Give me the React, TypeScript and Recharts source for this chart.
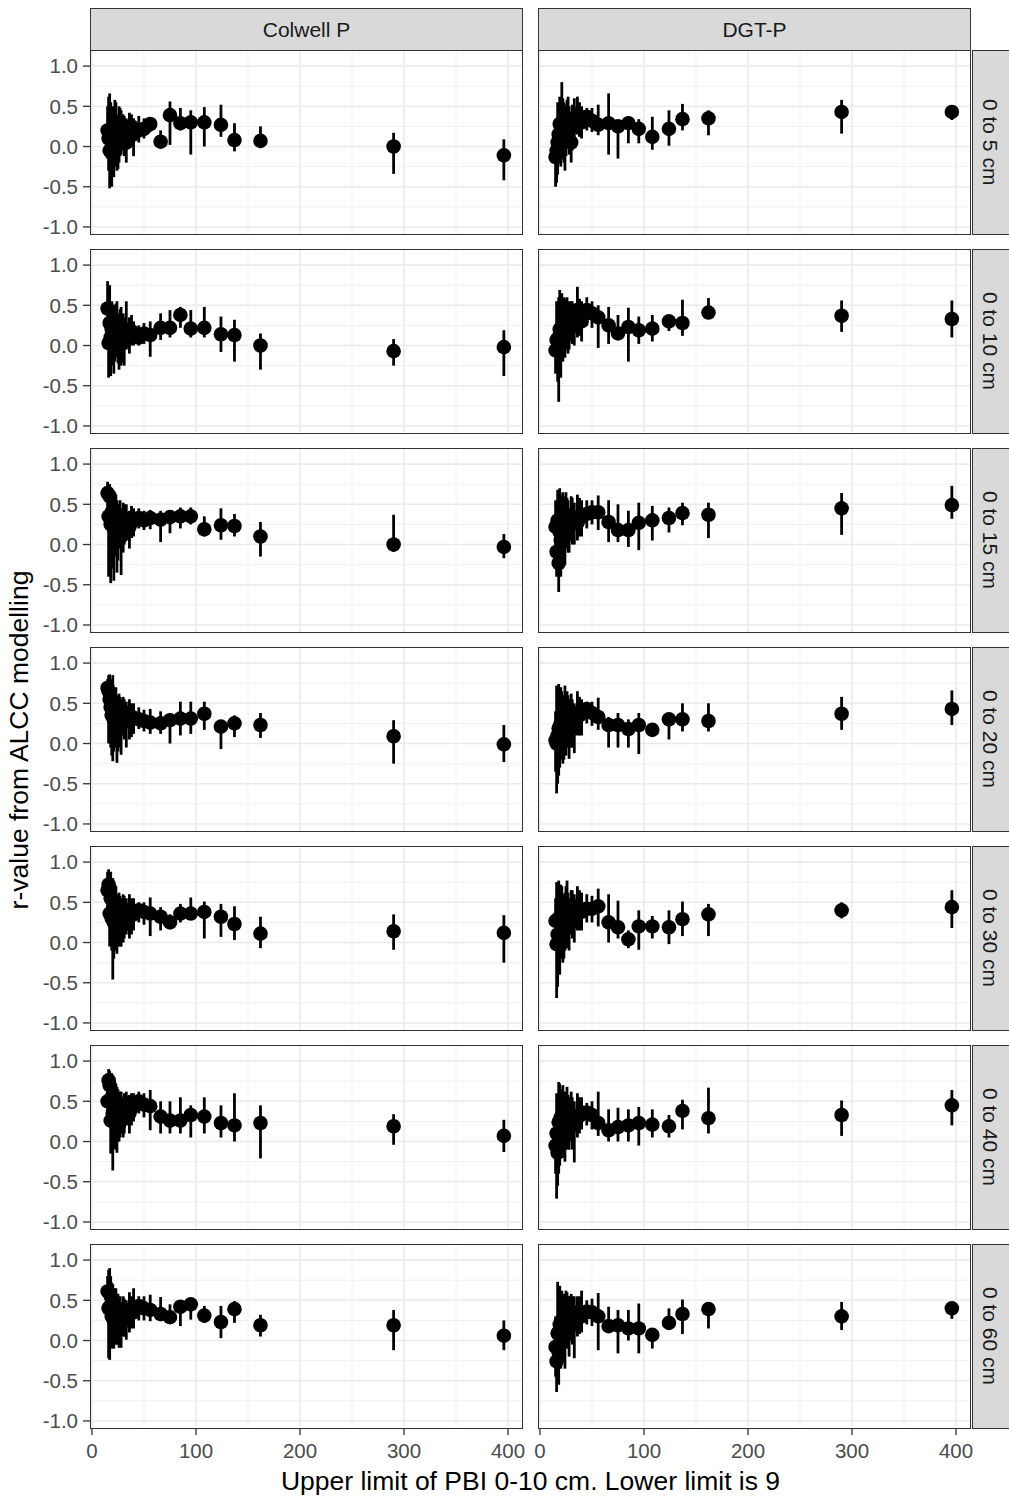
import { ScatterChart, Scatter, XAxis, YAxis, CartesianGrid, ErrorBar } from 'recharts';

// facet labels
const COL_LABELS = ['Colwell P', 'DGT-P'];
const ROW_LABELS = ['0 to 5 cm', '0 to 10 cm', '0 to 15 cm', '0 to 20 cm', '0 to 30 cm', '0 to 40 cm', '0 to 60 cm'];

const X_TICKS = [0, 100, 200, 300, 400];
const X_MINOR = [50, 150, 250, 350];
const Y_TICKS = [-1, -0.5, 0, 0.5, 1];
const Y_MINOR = [-0.75, -0.25, 0.25, 0.75];

// upper limit of PBI (shared by every panel)
const X_PBI = [
  15, 16, 17, 18, 19, 20, 21, 22, 23, 24, 25, 26, 27, 28, 30, 31, 33, 36, 38, 40, 45, 50,
  56, 66, 75, 85, 95, 108, 124, 137, 162, 290, 396,
];

// [r, lower, upper] per point, same order as X_PBI
const colwell5 = [
  [0.2, -0.15, 0.5], [0.1, -0.3, 0.62], [-0.05, -0.52, 0.66], [0.15, -0.45, 0.55], [-0.08, -0.5, 0.4], [0.12, -0.35, 0.5],
  [0.05, -0.38, 0.45], [0.18, -0.25, 0.58], [0.25, -0.1, 0.55], [0.02, -0.3, 0.35], [0.1, -0.28, 0.4], [0.15, -0.2, 0.5],
  [0.2, -0.12, 0.48], [0.22, -0.1, 0.45], [0.25, -0.05, 0.4], [0.15, -0.12, 0.38], [0.05, -0.2, 0.35], [0.22, 0.0, 0.42],
  [0.25, 0.02, 0.4], [0.15, -0.12, 0.35], [0.2, 0.05, 0.38], [0.22, 0.1, 0.35],
  [0.28, 0.18, 0.34], [0.06, -0.02, 0.2], [0.39, 0.02, 0.56], [0.29, 0.2, 0.48], [0.3, -0.1, 0.45], [0.3, 0.0, 0.49],
  [0.27, 0.12, 0.52], [0.08, -0.06, 0.29], [0.07, -0.02, 0.25], [0.0, -0.34, 0.17], [-0.11, -0.42, 0.09],
];
const dgt5 = [
  [-0.13, -0.5, 0.15], [-0.05, -0.45, 0.3], [0.05, -0.35, 0.55], [0.15, -0.2, 0.45], [0.28, -0.1, 0.62], [0.05, -0.25, 0.5],
  [0.18, -0.15, 0.8], [0.25, -0.1, 0.6], [0.12, -0.2, 0.55], [0.08, -0.3, 0.45], [0.22, -0.12, 0.52], [0.3, 0.0, 0.58],
  [0.32, 0.02, 0.62], [0.2, -0.1, 0.5], [0.05, -0.2, 0.4], [0.25, -0.05, 0.52], [0.35, 0.05, 0.6], [0.4, 0.15, 0.62],
  [0.33, 0.12, 0.55], [0.3, 0.1, 0.5], [0.37, 0.2, 0.48], [0.32, 0.18, 0.48],
  [0.27, 0.14, 0.52], [0.29, -0.1, 0.66], [0.25, -0.15, 0.33], [0.29, 0.04, 0.37], [0.22, 0.04, 0.34], [0.12, -0.04, 0.37],
  [0.22, 0.01, 0.45], [0.34, 0.2, 0.53], [0.35, 0.14, 0.45], [0.43, 0.16, 0.58], [0.43, 0.33, 0.5],
];
const colwell10 = [
  [0.46, 0.05, 0.8], [0.03, -0.4, 0.62], [0.28, -0.1, 0.75], [0.1, -0.38, 0.45], [0.2, -0.2, 0.55], [0.05, -0.25, 0.4],
  [0.15, -0.35, 0.5], [0.12, -0.2, 0.42], [0.25, -0.08, 0.52], [0.18, -0.15, 0.55], [0.08, -0.22, 0.4], [0.0, -0.3, 0.35],
  [0.18, -0.12, 0.45], [0.15, -0.25, 0.48], [0.1, -0.22, 0.4], [0.05, -0.25, 0.35], [0.2, -0.05, 0.55], [0.12, -0.1, 0.35],
  [0.18, 0.0, 0.38], [0.15, 0.0, 0.3], [0.1, 0.0, 0.25], [0.15, 0.02, 0.28],
  [0.13, -0.14, 0.3], [0.22, 0.07, 0.4], [0.22, 0.1, 0.44], [0.38, 0.22, 0.48], [0.21, 0.1, 0.44], [0.22, 0.1, 0.48],
  [0.14, -0.08, 0.36], [0.13, -0.2, 0.32], [0.0, -0.3, 0.15], [-0.07, -0.25, 0.08], [-0.02, -0.38, 0.19],
];
const dgt10 = [
  [-0.06, -0.35, 0.2], [0.07, -0.3, 0.55], [-0.02, -0.45, 0.4], [0.1, -0.7, 0.6], [0.2, -0.2, 0.69], [0.0, -0.4, 0.45],
  [0.15, -0.1, 0.65], [0.25, -0.2, 0.55], [0.18, -0.15, 0.6], [0.12, -0.15, 0.5], [0.3, 0.0, 0.58], [0.28, 0.0, 0.6],
  [0.18, -0.1, 0.5], [0.2, -0.05, 0.55], [0.35, 0.05, 0.55], [0.28, 0.02, 0.55], [0.25, 0.0, 0.5], [0.44, 0.1, 0.73],
  [0.35, 0.12, 0.58], [0.3, 0.05, 0.55], [0.44, 0.25, 0.6], [0.4, 0.22, 0.55],
  [0.35, -0.03, 0.5], [0.25, 0.02, 0.48], [0.15, 0.12, 0.38], [0.23, -0.2, 0.47], [0.19, 0.02, 0.36], [0.21, 0.05, 0.38],
  [0.3, 0.18, 0.35], [0.28, 0.12, 0.57], [0.41, 0.34, 0.59], [0.37, 0.17, 0.56], [0.33, 0.1, 0.56],
];
const colwell15 = [
  [0.64, 0.45, 0.78], [0.35, -0.4, 0.7], [0.6, 0.25, 0.75], [0.25, -0.48, 0.6], [0.4, -0.2, 0.62], [0.3, -0.3, 0.65],
  [0.2, -0.45, 0.55], [0.35, -0.15, 0.6], [0.3, -0.1, 0.62], [0.15, -0.35, 0.55], [0.2, -0.2, 0.5], [0.3, -0.05, 0.5],
  [0.35, 0.0, 0.55], [0.1, -0.38, 0.45], [0.25, -0.1, 0.52], [0.3, 0.0, 0.5], [0.32, 0.05, 0.5], [0.22, -0.05, 0.42],
  [0.28, 0.08, 0.48], [0.3, 0.1, 0.45], [0.33, 0.2, 0.45], [0.3, 0.18, 0.42],
  [0.33, 0.19, 0.43], [0.31, 0.03, 0.42], [0.34, 0.14, 0.42], [0.35, 0.2, 0.46], [0.35, 0.25, 0.46], [0.19, 0.1, 0.35],
  [0.24, 0.06, 0.45], [0.23, 0.1, 0.38], [0.1, -0.15, 0.28], [0.0, -0.09, 0.37], [-0.03, -0.17, 0.13],
];
const dgt15 = [
  [0.22, -0.1, 0.55], [-0.09, -0.4, 0.35], [0.3, -0.2, 0.68], [-0.23, -0.59, 0.1], [0.15, -0.3, 0.7], [0.05, -0.4, 0.55],
  [0.25, -0.15, 0.62], [0.35, 0.0, 0.65], [0.2, -0.2, 0.6], [0.1, -0.25, 0.5], [0.32, 0.0, 0.65], [0.3, -0.05, 0.58],
  [0.25, -0.1, 0.55], [0.22, -0.1, 0.45], [0.35, 0.05, 0.6], [0.3, 0.0, 0.58], [0.28, 0.0, 0.52], [0.27, 0.05, 0.62],
  [0.32, 0.1, 0.58], [0.35, 0.1, 0.55], [0.38, 0.2, 0.55], [0.4, 0.25, 0.55],
  [0.4, 0.18, 0.61], [0.28, 0.03, 0.55], [0.18, 0.03, 0.5], [0.18, -0.03, 0.42], [0.27, -0.07, 0.52], [0.3, 0.05, 0.48],
  [0.33, 0.15, 0.46], [0.39, 0.24, 0.52], [0.37, 0.08, 0.52], [0.45, 0.12, 0.64], [0.49, 0.32, 0.73],
];
const colwell20 = [
  [0.69, 0.45, 0.8], [0.65, 0.0, 0.85], [0.55, 0.1, 0.86], [0.45, -0.05, 0.8], [0.35, -0.15, 0.7], [0.5, -0.22, 0.85],
  [0.3, -0.1, 0.6], [0.4, 0.05, 0.65], [0.35, -0.05, 0.7], [0.25, -0.24, 0.55], [0.3, -0.1, 0.6], [0.38, 0.0, 0.62],
  [0.32, -0.05, 0.58], [0.3, -0.14, 0.55], [0.4, 0.1, 0.58], [0.33, 0.05, 0.55], [0.28, -0.05, 0.52], [0.35, 0.05, 0.55],
  [0.3, 0.08, 0.5], [0.32, 0.12, 0.5], [0.3, 0.18, 0.45], [0.28, 0.15, 0.42],
  [0.26, 0.12, 0.43], [0.25, 0.12, 0.4], [0.29, 0.0, 0.38], [0.31, 0.1, 0.52], [0.31, 0.12, 0.52], [0.37, 0.17, 0.52],
  [0.21, -0.07, 0.29], [0.25, 0.08, 0.35], [0.23, 0.07, 0.38], [0.09, -0.25, 0.29], [-0.01, -0.23, 0.23],
];
const dgt20 = [
  [0.04, -0.35, 0.4], [0.0, -0.62, 0.72], [0.1, -0.5, 0.55], [0.19, -0.4, 0.74], [0.05, -0.3, 0.6], [0.25, -0.1, 0.7],
  [0.33, -0.2, 0.65], [0.15, -0.25, 0.55], [0.25, -0.2, 0.6], [0.3, -0.05, 0.72], [0.2, -0.15, 0.55], [0.4, 0.0, 0.65],
  [0.3, -0.05, 0.6], [0.22, -0.19, 0.55], [0.35, -0.05, 0.62], [0.28, -0.05, 0.55], [0.19, -0.12, 0.5], [0.38, 0.1, 0.65],
  [0.35, 0.1, 0.58], [0.4, 0.1, 0.55], [0.43, 0.25, 0.52], [0.38, 0.22, 0.52],
  [0.33, 0.17, 0.57], [0.23, -0.05, 0.33], [0.23, -0.05, 0.38], [0.18, -0.05, 0.3], [0.23, -0.13, 0.38], [0.17, 0.1, 0.25],
  [0.3, 0.05, 0.38], [0.3, 0.15, 0.5], [0.28, 0.15, 0.5], [0.37, 0.17, 0.58], [0.43, 0.23, 0.66],
];
const colwell30 = [
  [0.65, 0.35, 0.88], [0.72, 0.3, 0.91], [0.36, -0.05, 0.85], [0.55, 0.1, 0.88], [0.3, -0.1, 0.65], [0.4, -0.46, 0.8],
  [0.25, -0.2, 0.7], [0.45, 0.0, 0.72], [0.35, -0.1, 0.7], [0.2, -0.14, 0.5], [0.3, -0.05, 0.6], [0.38, 0.0, 0.62],
  [0.28, -0.05, 0.58], [0.3, -0.05, 0.55], [0.22, 0.0, 0.6], [0.35, 0.05, 0.58], [0.4, 0.1, 0.55], [0.38, 0.05, 0.6],
  [0.35, 0.1, 0.55], [0.35, 0.15, 0.55], [0.4, 0.25, 0.5], [0.38, 0.22, 0.5],
  [0.36, 0.08, 0.56], [0.32, 0.15, 0.44], [0.25, 0.18, 0.35], [0.36, 0.25, 0.48], [0.36, 0.28, 0.56], [0.38, 0.05, 0.51],
  [0.32, 0.07, 0.48], [0.23, 0.03, 0.45], [0.11, -0.07, 0.32], [0.14, -0.09, 0.35], [0.12, -0.25, 0.34],
];
const dgt30 = [
  [0.27, -0.1, 0.55], [-0.02, -0.69, 0.75], [0.1, -0.55, 0.6], [0.3, -0.35, 0.77], [-0.02, -0.4, 0.4], [0.25, -0.2, 0.72],
  [0.35, 0.0, 0.7], [0.0, -0.25, 0.45], [0.2, -0.2, 0.6], [0.29, -0.1, 0.62], [0.32, -0.05, 0.7], [0.35, 0.05, 0.77],
  [0.28, -0.05, 0.62], [0.22, -0.1, 0.55], [0.4, 0.1, 0.65], [0.35, 0.05, 0.65], [0.3, 0.0, 0.6], [0.45, 0.15, 0.7],
  [0.4, 0.15, 0.65], [0.38, 0.15, 0.62], [0.42, 0.25, 0.6], [0.42, 0.25, 0.58],
  [0.45, 0.2, 0.67], [0.25, 0.0, 0.6], [0.19, 0.05, 0.52], [0.04, -0.07, 0.15], [0.2, -0.09, 0.4], [0.2, 0.05, 0.33],
  [0.19, -0.02, 0.4], [0.29, 0.08, 0.51], [0.35, 0.08, 0.48], [0.4, 0.3, 0.5], [0.44, 0.18, 0.65],
];
const colwell40 = [
  [0.5, 0.2, 0.8], [0.76, 0.45, 0.9], [0.7, 0.3, 0.88], [0.26, -0.15, 0.7], [0.55, 0.1, 0.85], [0.35, -0.36, 0.75],
  [0.45, 0.0, 0.78], [0.3, -0.1, 0.62], [0.4, 0.0, 0.72], [0.4, -0.14, 0.68], [0.35, 0.0, 0.65], [0.21, 0.0, 0.55],
  [0.38, 0.05, 0.62], [0.45, 0.1, 0.62], [0.28, 0.05, 0.55], [0.4, 0.1, 0.6], [0.48, 0.2, 0.62], [0.35, 0.1, 0.58],
  [0.42, 0.2, 0.6], [0.45, 0.25, 0.6], [0.5, 0.35, 0.62], [0.46, 0.3, 0.6],
  [0.44, 0.14, 0.64], [0.31, 0.1, 0.5], [0.26, 0.1, 0.5], [0.26, 0.1, 0.55], [0.33, 0.05, 0.45], [0.31, 0.1, 0.55],
  [0.23, 0.05, 0.45], [0.2, 0.0, 0.6], [0.23, -0.21, 0.45], [0.19, -0.04, 0.34], [0.07, -0.13, 0.27],
];
const dgt40 = [
  [-0.05, -0.4, 0.3], [0.1, -0.71, 0.6], [-0.14, -0.55, 0.45], [0.24, -0.4, 0.74], [0.0, -0.3, 0.72], [0.3, -0.15, 0.65],
  [0.1, -0.2, 0.6], [0.33, 0.0, 0.7], [0.22, -0.2, 0.62], [0.2, -0.25, 0.55], [0.28, -0.1, 0.62], [0.35, -0.05, 0.68],
  [0.25, -0.1, 0.58], [0.25, -0.1, 0.55], [0.3, 0.0, 0.62], [0.25, -0.1, 0.55], [0.2, -0.26, 0.5], [0.3, 0.05, 0.6],
  [0.32, 0.1, 0.55], [0.36, 0.15, 0.55], [0.36, 0.2, 0.48], [0.33, 0.15, 0.5],
  [0.23, 0.07, 0.62], [0.14, 0.0, 0.4], [0.18, 0.0, 0.42], [0.2, 0.0, 0.4], [0.23, -0.05, 0.43], [0.21, 0.05, 0.4],
  [0.19, 0.05, 0.33], [0.38, 0.15, 0.52], [0.29, 0.1, 0.67], [0.33, 0.07, 0.51], [0.45, 0.2, 0.64],
];
const colwell60 = [
  [0.61, 0.3, 0.8], [0.4, -0.22, 0.88], [0.42, -0.24, 0.9], [0.55, 0.0, 0.8], [0.3, -0.1, 0.72], [0.45, -0.05, 0.7],
  [0.25, -0.1, 0.65], [0.4, 0.0, 0.62], [0.35, -0.05, 0.65], [0.2, -0.05, 0.55], [0.3, -0.05, 0.58], [0.35, -0.09, 0.52],
  [0.33, 0.0, 0.55], [0.3, -0.09, 0.48], [0.38, 0.05, 0.55], [0.32, 0.05, 0.52], [0.25, 0.01, 0.5], [0.38, 0.1, 0.6],
  [0.38, 0.15, 0.55], [0.35, 0.15, 0.65], [0.43, 0.25, 0.55], [0.4, 0.25, 0.55],
  [0.38, 0.24, 0.57], [0.33, 0.24, 0.54], [0.29, 0.25, 0.45], [0.42, 0.18, 0.49], [0.45, 0.26, 0.5], [0.31, 0.22, 0.43],
  [0.23, 0.03, 0.43], [0.39, 0.22, 0.49], [0.19, 0.05, 0.32], [0.19, -0.12, 0.38], [0.06, -0.12, 0.25],
];
const dgt60 = [
  [-0.08, -0.45, 0.3], [-0.26, -0.64, 0.1], [0.09, -0.49, 0.73], [-0.15, -0.55, 0.55], [0.2, -0.3, 0.68], [0.0, -0.35, 0.5],
  [0.25, -0.1, 0.62], [0.1, -0.2, 0.55], [0.15, -0.25, 0.58], [0.21, -0.35, 0.58], [0.25, -0.1, 0.62], [0.3, -0.05, 0.6],
  [0.22, -0.1, 0.55], [0.15, -0.2, 0.55], [0.34, 0.0, 0.58], [0.28, -0.05, 0.55], [0.25, -0.22, 0.55], [0.35, 0.05, 0.55],
  [0.32, 0.08, 0.55], [0.3, 0.1, 0.62], [0.36, 0.2, 0.5], [0.35, 0.18, 0.52],
  [0.3, -0.12, 0.59], [0.18, 0.09, 0.42], [0.19, -0.16, 0.38], [0.15, 0.0, 0.38], [0.15, -0.16, 0.46], [0.07, -0.1, 0.15],
  [0.22, 0.15, 0.4], [0.33, 0.08, 0.51], [0.39, 0.15, 0.45], [0.3, 0.13, 0.48], [0.4, 0.27, 0.45],
];

const PANEL_VALUES = [
  [colwell5, dgt5],
  [colwell10, dgt10],
  [colwell15, dgt15],
  [colwell20, dgt20],
  [colwell30, dgt30],
  [colwell40, dgt40],
  [colwell60, dgt60],
];

const FONT = '"Liberation Sans", Arial, sans-serif';
const PANEL_W = 433;
const PANEL_H = 185;
const COL_LEFT = [90, 538];
const ROW_TOP = 50;
const ROW_STEP = 199;
const Y_AXIS_W = 60;
const X_AXIS_H = 40;
const PAD = 14; // room so edge tick labels are not clipped
const X_DOMAIN = [-1.9, 414.4];
const Y_DOMAIN = [-1.1, 1.2];

function toRows(values: number[][]) {
  return X_PBI.map((x, i) => {
    const [r, lo, hi] = values[i];
    return { x, r, err: [r - lo, hi - r] };
  });
}

function Dot(props: any) {
  const { cx, cy } = props;
  if (cx == null || cy == null) return null;
  return <circle cx={cx} cy={cy} r={7.3} fill="#000" />;
}

function Panel({ values, row, col }: { values: number[][]; row: number; col: number }) {
  const showX = row === ROW_LABELS.length - 1;
  const showY = col === 0;
  const yw = showY ? Y_AXIS_W : 0;
  const data = toRows(values);
  const tick = { fill: '#4D4D4D', fontSize: 20.5, fontFamily: FONT };
  return (
    <div style={{ position: 'absolute', left: COL_LEFT[col] - yw - PAD, top: ROW_TOP + row * ROW_STEP - PAD }}>
      <ScatterChart
        width={PANEL_W + yw + 2 * PAD}
        height={PANEL_H + (showX ? X_AXIS_H : 0) + 2 * PAD}
        margin={{ top: PAD, right: PAD, bottom: PAD, left: PAD }}
      >
        <CartesianGrid stroke="#F0F0F0" strokeWidth={1} verticalValues={X_MINOR} horizontalValues={Y_MINOR} />
        <CartesianGrid stroke="#EBEBEB" strokeWidth={1.6} verticalValues={X_TICKS} horizontalValues={Y_TICKS} />
        <XAxis
          dataKey="x"
          type="number"
          hide={!showX}
          domain={X_DOMAIN}
          allowDataOverflow
          ticks={X_TICKS}
          interval={0}
          height={X_AXIS_H}
          axisLine={false}
          tickLine={{ stroke: '#333333', strokeWidth: 1.3 }}
          tickSize={6}
          tickMargin={8}
          tick={tick}
        />
        <YAxis
          dataKey="r"
          type="number"
          hide={!showY}
          domain={Y_DOMAIN}
          allowDataOverflow
          ticks={Y_TICKS}
          interval={0}
          width={Y_AXIS_W}
          axisLine={false}
          tickLine={{ stroke: '#333333', strokeWidth: 1.3 }}
          tickSize={7}
          tickMargin={5}
          tick={tick}
          tickFormatter={(v: number) => v.toFixed(1)}
        />
        <Scatter data={data} shape={Dot} isAnimationActive={false}>
          <ErrorBar dataKey="err" direction="y" width={0} stroke="#000" strokeWidth={2.8} isAnimationActive={false} />
        </Scatter>
      </ScatterChart>
      {/* panel border */}
      <div
        style={{
          position: 'absolute',
          left: yw + PAD,
          top: PAD,
          width: PANEL_W,
          height: PANEL_H,
          border: '1.3px solid #333333',
          boxSizing: 'border-box',
          pointerEvents: 'none',
        }}
      />
    </div>
  );
}

export default function App() {
  return (
    <div
      style={{
        position: 'absolute',
        left: 0,
        top: 0,
        width: 1009,
        height: 1496,
        overflow: 'hidden',
        background: '#fff',
        fontFamily: FONT,
      }}
    >
      {COL_LABELS.map((label, c) => (
        <div
          key={label}
          style={{
            position: 'absolute',
            left: COL_LEFT[c],
            top: 8,
            width: PANEL_W,
            height: ROW_TOP - 8 + 1,
            background: '#D9D9D9',
            border: '1.3px solid #333333',
            boxSizing: 'border-box',
            display: 'flex',
            alignItems: 'center',
            justifyContent: 'center',
            fontSize: 21,
            color: '#1A1A1A',
          }}
        >
          {label}
        </div>
      ))}

      {ROW_LABELS.map((label, r) => (
        <div
          key={label}
          style={{
            position: 'absolute',
            left: COL_LEFT[1] + PANEL_W + 1,
            top: ROW_TOP + r * ROW_STEP,
            width: 44,
            height: PANEL_H,
            background: '#D9D9D9',
            border: '1.3px solid #333333',
            boxSizing: 'border-box',
            display: 'flex',
            alignItems: 'center',
            justifyContent: 'flex-start',
            paddingLeft: 5,
            fontSize: 21,
            color: '#1A1A1A',
          }}
        >
          <span style={{ writingMode: 'vertical-rl' }}>{label}</span>
        </div>
      ))}

      {PANEL_VALUES.map((pair, r) =>
        pair.map((values, c) => <Panel key={`${r}-${c}`} values={values} row={r} col={c} />)
      )}

      <div
        style={{
          position: 'absolute',
          left: COL_LEFT[0],
          width: COL_LEFT[1] + PANEL_W - COL_LEFT[0],
          top: 1466,
          textAlign: 'center',
          fontSize: 26.5,
          color: '#000',
        }}
      >
        Upper limit of PBI 0-10 cm. Lower limit is 9
      </div>

      <div
        style={{
          position: 'absolute',
          left: 19,
          top: 740,
          transform: 'translate(-50%, -50%) rotate(-90deg)',
          whiteSpace: 'nowrap',
          fontSize: 26.5,
          color: '#000',
        }}
      >
        r-value from ALCC modelling
      </div>
    </div>
  );
}
